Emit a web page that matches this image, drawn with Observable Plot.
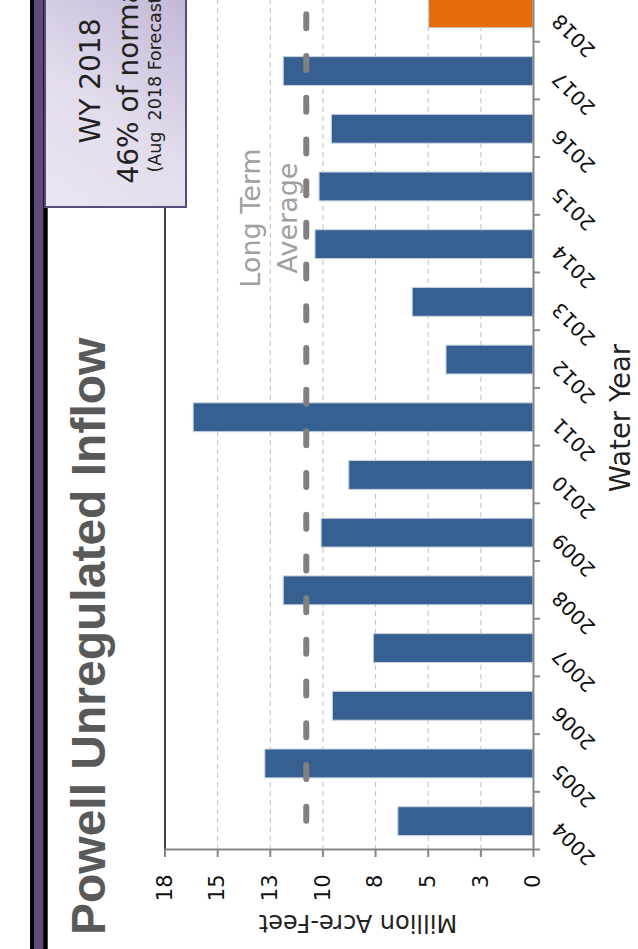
<!DOCTYPE html>
<html>
<head>
<meta charset="utf-8">
<script src="https://cdn.jsdelivr.net/npm/d3@7"></script>
<script src="https://cdn.jsdelivr.net/npm/@observablehq/plot@0.6"></script>
<style>
  html, body { margin: 0; padding: 0; background: #ffffff; }
  body { width: 638px; height: 949px; overflow: hidden; position: relative; }
  #rot { position: absolute; left: 0; top: 0; width: 1000px; height: 638px;
         transform-origin: 0 0; transform: translate(0px, 949px) rotate(-90deg); }
</style>
</head>
<body>
<div id="rot"></div>
<script>
// ---- data ----
const years = [2004, 2005, 2006, 2007, 2008, 2009, 2010, 2011, 2012, 2013, 2014, 2015, 2016, 2017, 2018];
const inflow = [6.6, 13.1, 9.8, 7.8, 12.2, 10.35, 9.0, 16.6, 4.25, 5.9, 10.65, 10.45, 9.85, 12.2, 5.1];
const forecastYear = 2018;
const longTermAverage = 11.1;
const yTickValues = [0, 18 / 7, 36 / 7, 54 / 7, 72 / 7, 90 / 7, 108 / 7, 18];
const yTickLabels = ["0", "3", "5", "8", "10", "13", "15", "18"];
const titleText = "Powell Unregulated Inflow";
const yLabel = "Million Acre-Feet";
const xLabel = "Water Year";
const boxLines = ["WY 2018", "46% of normal", "(Aug  2018 Forecast)"];
const avgLines = ["Long Term", "Average"];

const data = years.map((year, i) => ({year, value: inflow[i]}));
const boundaries = years.map(y => y - 0.5).concat([years[years.length - 1] + 0.5]);
const blue = "#376092", orange = "#e46c0a";

const plot = Plot.plot({
  width: 1000,
  height: 638,
  marginLeft: 99,
  marginRight: 35.5,
  marginTop: 164.5,
  marginBottom: 105,
  x: {type: "linear", domain: [years[0] - 0.5, years[years.length - 1] + 0.5], axis: null},
  y: {domain: [0, 18], axis: null},
  style: {fontFamily: "DejaVu Sans", background: "transparent", color: "#000"},
  marks: [
    Plot.gridY(yTickValues.slice(1, -1), {stroke: "#bfbfbf", strokeOpacity: 1, strokeWidth: 1, strokeDasharray: "5,4"}),
    Plot.rectY(data, {
      x1: d => d.year - 0.25, x2: d => d.year + 0.25, y1: 0, y2: "value",
      fill: d => d.year === forecastYear ? orange : blue,
      stroke: "#c9d3e0", strokeWidth: 1
    }),
    Plot.lineY(years, {x: d => d, y: () => longTermAverage, stroke: "#808080", strokeWidth: 6,
      strokeDasharray: "14 27.7", strokeLinecap: "round"}),
    Plot.ruleY([18], {stroke: "#000", strokeWidth: 1.5}),
    Plot.ruleY([0], {stroke: "#868686", strokeWidth: 2}),
    Plot.ruleX([years[0] - 0.5], {stroke: "#868686", strokeWidth: 2}),
    Plot.axisY(yTickValues, {
      tickSize: 7, tickPadding: 18, stroke: "#868686", strokeWidth: 2, fill: "#111",
      fontSize: 21, label: null,
      tickFormat: d => yTickLabels[yTickValues.indexOf(d)]
    }),
    Plot.axisX(boundaries, {tickSize: 7, stroke: "#868686", strokeWidth: 2, tickFormat: () => "", label: null}),
    Plot.text(years, {x: d => d, frameAnchor: "bottom", dy: 27, rotate: -45, textAnchor: "end",
      text: d => String(d), fontSize: 20, fill: "#111"})
  ]
});

const svg = d3.select(plot);

// header band
svg.insert("rect", ":first-child").attr("x", 0).attr("y", 30).attr("width", 1000).attr("height", 17.7).attr("fill", "#000");
svg.insert("rect", ":nth-child(2)").attr("x", 0).attr("y", 34).attr("width", 1000).attr("height", 9.3).attr("fill", "#5f4a7b");

// title
svg.append("text").attr("x", 14).attr("y", 105).attr("text-anchor", "start")
  .attr("font-family", "Liberation Sans, Arial, sans-serif").attr("font-weight", "bold")
  .attr("font-size", 48).attr("fill", "#595959").text(titleText);

// y label
svg.append("text").attr("transform", "translate(34,358) rotate(-90)").attr("text-anchor", "middle")
  .attr("font-family", "DejaVu Sans").attr("font-size", 24).attr("fill", "#222").text(yLabel);

// x label
svg.append("text").attr("x", 531).attr("y", 630).attr("text-anchor", "middle")
  .attr("font-family", "DejaVu Sans").attr("font-size", 27.5).attr("fill", "#222").text(xLabel);

// long-term average annotation
avgLines.forEach((t, i) => {
  svg.append("text").attr("x", 731).attr("y", 260 + i * 37).attr("text-anchor", "middle")
    .attr("font-family", "DejaVu Sans").attr("font-size", 27).attr("fill", "#a0a0a0").text(t);
});

// forecast box
const defs = svg.append("defs");
const grad = defs.append("linearGradient").attr("id", "boxgrad").attr("gradientUnits", "userSpaceOnUse")
  .attr("x1", 742).attr("y1", 45).attr("x2", 950).attr("y2", 186);
grad.append("stop").attr("offset", "0").attr("stop-color", "#ebe6f1");
grad.append("stop").attr("offset", "0.45").attr("stop-color", "#e3dcec");
grad.append("stop").attr("offset", "1").attr("stop-color", "#c3b7d7");
svg.append("rect").attr("x", 742).attr("y", 45).attr("width", 262).attr("height", 141)
  .attr("fill", "url(#boxgrad)").attr("stroke", "#5b4a7a").attr("stroke-width", 2);
const boxSizes = [28, 28, 17.5], boxBase = [100, 138, 161];
boxLines.forEach((t, i) => {
  svg.append("text").attr("x", 868).attr("y", boxBase[i]).attr("text-anchor", "middle")
    .attr("font-family", "DejaVu Sans").attr("font-size", boxSizes[i]).attr("fill", "#222")
    .style("white-space", "pre").text(t);
});

document.getElementById("rot").appendChild(plot);
</script>
</body>
</html>
